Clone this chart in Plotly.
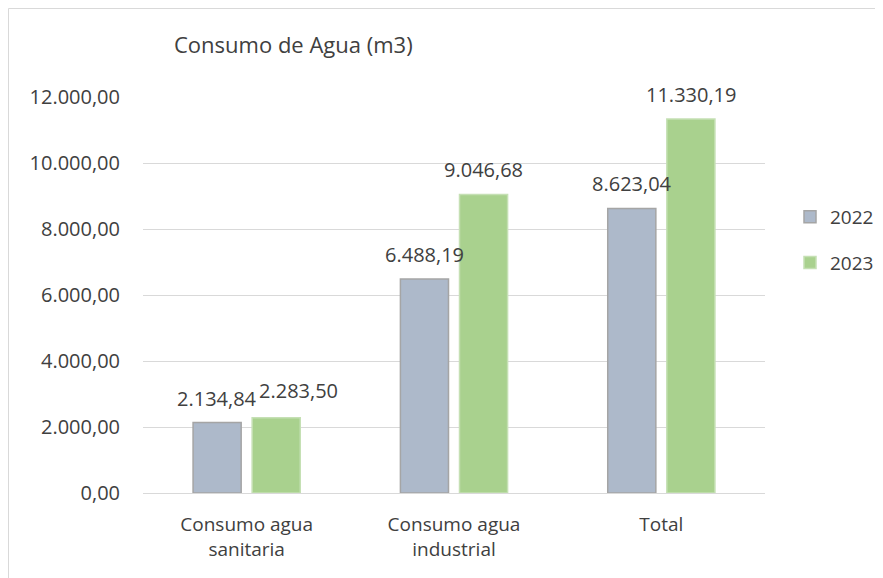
import plotly.graph_objects as go

categories = ["Consumo agua<br>sanitaria", "Consumo agua<br>industrial", "Total"]
series_names = ["2022", "2023"]
values_2022 = [2134.84, 6488.19, 8623.04]
values_2023 = [2283.50, 9046.68, 11330.19]
y_ticks = [0, 2000, 4000, 6000, 8000, 10000, 12000]

W, H = 883, 578
OFF = 8  # page body margin
L, R, T, B = 143 - OFF, 765 - OFF, 97 - OFF, 493 - OFF
PW, PH = R - L, B - T

FONT = "Open Sans"
TXT = "#404040"
BARGAP, GROUPGAP = 0.43, 0.186
LABEL_SIZE = 20

fig = go.Figure()
fig.add_trace(go.Bar(
    x=categories, y=values_2022, name=series_names[0], legendgroup="a",
    marker=dict(color="#ADB9CA", line=dict(color="#A5A5A5", width=1.5)),
))
fig.add_trace(go.Bar(
    x=categories, y=values_2023, name=series_names[1], legendgroup="b",
    marker=dict(color="#A9D18E", line=dict(color="#C5E0B4", width=1.5)),
))

# data labels above the bars, positioned from the data and the bar layout
slot = (1 - BARGAP) / 2
barw = slot * (1 - GROUPGAP)
fmt = lambda v: f"{v:,.2f}".replace(",", "X").replace(".", ",").replace("X", ".")
annotations = []
for k, vals in enumerate([values_2022, values_2023]):
    sign = -1 if k == 0 else 1
    for i, v in enumerate(vals):
        xc = i + sign * slot / 2
        crowded = (k == 1 and i == 0)  # Excel nudges this label right
        annotations.append(dict(
            x=(xc - barw / 2) if crowded else xc, y=v, xref="x", yref="y",
            text=fmt(v), showarrow=False,
            xanchor="left" if crowded else "center", yanchor="bottom",
            xshift=5 if crowded else 0, yshift=12 if crowded else 9,
            font=dict(size=LABEL_SIZE, color=TXT, family=FONT),
        ))

fig.update_layout(
    width=W, height=H,
    margin=dict(l=L, r=W - R, t=T, b=H - B, pad=0, autoexpand=False),
    paper_bgcolor="white", plot_bgcolor="white",
    separators=",.",
    font=dict(family=FONT, color=TXT, size=16),
    barmode="group", bargap=BARGAP, bargroupgap=GROUPGAP,
    title=dict(text="Consumo de Agua (m3)", x=(174 - OFF) / W, xanchor="left",
               y=1 - (45 - OFF) / H, yanchor="middle",
               font=dict(size=22, color=TXT, family=FONT)),
    legend=dict(x=(790 - 143) / 622, xanchor="left", y=(493 - 240) / 396, yanchor="middle",
                font=dict(size=19, color=TXT, family=FONT),
                tracegroupgap=18, traceorder="grouped", itemwidth=30),
    showlegend=True,
    annotations=annotations,
)
fig.update_yaxes(range=[0, 12000], tickvals=y_ticks, tickformat=",.2f",
                 showgrid=True, gridcolor="#D9D9D9", gridwidth=1,
                 zeroline=False, showline=False, ticks="",
                 ticklabelstandoff=22,
                 tickfont=dict(size=20, color=TXT, family=FONT))
fig.update_xaxes(showgrid=False, showline=True, linecolor="#D9D9D9", linewidth=1,
                 ticks="", tickfont=dict(size=19, color=TXT, family=FONT),
                 ticklabelstandoff=14)

# chart border (left / top edge of the chart frame)
fig.add_shape(type="rect", xref="paper", yref="paper",
              x0=(0.5 - L) / PW, x1=(W + 20 - L) / PW,
              y0=(B - (H + 20)) / PH, y1=(B - 0.5) / PH,
              line=dict(color="#D9D9D9", width=1), fillcolor="rgba(0,0,0,0)",
              layer="below")

fig.write_html("out.html")
